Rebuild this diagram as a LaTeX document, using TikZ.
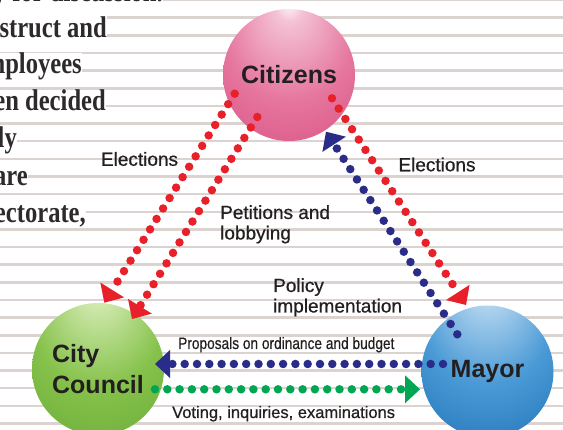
\documentclass[tikz,border=0pt]{standalone}
\usepackage{fontspec}
\setmainfont{Liberation Sans}
\newfontfamily\bgserif[FakeStretch=0.82]{Liberation Serif}
\newfontfamily\medsans[FakeBold=0.6]{Liberation Sans}
\newfontfamily\condsans[FakeStretch=0.83,FakeBold=0.4]{Liberation Sans}
\usetikzlibrary{arrows.meta}
\definecolor{linegray}{HTML}{DAD3D0}
\definecolor{ink}{HTML}{231F20}
\definecolor{bgink}{HTML}{2E2A2B}
\definecolor{dotred}{HTML}{E8202A}
\definecolor{dotblue}{HTML}{2A2C8A}
\definecolor{dotgreen}{HTML}{00A651}
\definecolor{citA}{HTML}{F4C2D4}
\definecolor{citB}{HTML}{E6769E}
\definecolor{citC}{HTML}{D44A7D}
\definecolor{couA}{HTML}{D0E9AE}
\definecolor{couB}{HTML}{86C24B}
\definecolor{couC}{HTML}{62A733}
\definecolor{mayA}{HTML}{BCDAF1}
\definecolor{mayB}{HTML}{4A9AD6}
\definecolor{mayC}{HTML}{186AB0}
\pgfdeclareradialshading{citshade}{\pgfpoint{0bp}{28bp}}{%
  color(0bp)=(white); color(5bp)=(citA); color(24bp)=(citB); color(47bp)=(citC); color(50bp)=(citC)}
\pgfdeclareradialshading{coushade}{\pgfpoint{0bp}{33bp}}{%
  color(0bp)=(white); color(5bp)=(couA); color(24bp)=(couB); color(47bp)=(couC); color(50bp)=(couC)}
\pgfdeclareradialshading{mayshade}{\pgfpoint{0bp}{37bp}}{%
  color(0bp)=(white); color(5bp)=(mayA); color(24bp)=(mayB); color(47bp)=(mayC); color(50bp)=(mayC)}
\begin{document}
\begin{tikzpicture}[x=1pt,y=-1pt,
  bgline/.style={draw=linegray, line width=2.5pt},
  bgtxt/.style={anchor=base east, fill=white, inner sep=0pt, text=bgink,
    font=\bgserif\bfseries\fontsize{30}{30}\selectfont},
  sphere/.style={circle, minimum size=132pt, inner sep=0pt, text=ink,
    font=\bfseries\fontsize{25}{31}\selectfont},
  lbl/.style={text=ink, inner sep=0pt, font=\medsans\fontsize{19}{20.5}\selectfont},
  smalllbl/.style={text=ink, inner sep=0pt, anchor=base west},
  dotline/.style={line width=8.5pt, line cap=round, dash pattern=on 0pt off 12.3pt},
  tipped/.style={-{Triangle[length=15pt,width=28pt,line width=0pt]}}
]
\useasboundingbox (0,0) rectangle (563,430);
\clip (0,0) rectangle (563,430);
\fill[white] (0,0) rectangle (563,430);
\foreach \k in {0,...,24}{
  \draw[bgline] (0,{0.1+17.64*\k}) -- (563,{0.1+17.64*\k});
}
% clipped text column
\node[bgtxt] (t0) at (163,1.5) {y for discussion.};
\node[bgtxt] (t1) at (107,37.3) {struct and};
\node[bgtxt] (t2) at (82,73.8) {mployees};
\node[bgtxt] (t3) at (106,110.5) {en decided};
\node[bgtxt] (t4) at (17,147.3) {ly};
\node[bgtxt] (t5) at (28,186) {are};
\node[bgtxt] (t6) at (86,223) {ectorate,};
% spheres
\node[sphere, shading=citshade] (cit) at (289,75) {Citizens};
\node[sphere, shading=coushade, align=left] (cou) at (98,369) {City\\Council};
\node[sphere, shading=mayshade] (may) at (487.5,371.5) {Mayor};
% connector end points
\coordinate (a1) at ([shift={(-54.3,18.7)}]cit.center);
\coordinate (a2) at ([shift={(6.3,-66.3)}]cou.center);
\coordinate (b1) at ([shift={(-31.7,42)}]cit.center);
\coordinate (b2) at ([shift={(34,-50)}]cou.center);
\coordinate (c1) at ([shift={(43,23.3)}]cit.center);
\coordinate (c2) at ([shift={(-21.5,-66.5)}]may.center);
\coordinate (d1) at ([shift={(-30.2,-37.2)}]may.center);
\coordinate (d2) at ([shift={(37,56.7)}]cit.center);
\coordinate (e1) at ([shift={(-44.5,-7.5)}]may.center);
\coordinate (e2) at ([shift={(57,-5)}]cou.center);
\coordinate (f1) at ([shift={(57,20.3)}]cou.center);
\coordinate (f2) at ([shift={(-67.5,17.8)}]may.center);
% connectors
\draw[dotline, dotred, tipped] (a1) -- (a2);
\draw[dotline, dotred, tipped] (b1) -- (b2);
\draw[dotline, dotred, tipped] (c1) -- (c2);
\draw[dotline, dotblue, tipped] (d1) -- (d2);
\draw[dotline, dotblue, tipped] (e1) -- (e2);
\draw[dotline, dotgreen, tipped] (f1) -- (f2);
% labels
\node[lbl] (l1) at (139.5,159) {Elections};
\node[lbl] (l2) at (437,164.5) {Elections};
\node[lbl, anchor=north west, align=left] (l3) at (220,205) {Petitions and\\lobbying};
\node[lbl, anchor=north west, align=left] (l4) at (273,278) {Policy\\implementation};
\node[smalllbl, font=\condsans\fontsize{16.5}{18}\selectfont] (l5) at (178,349) {Proposals on ordinance and budget};
\node[smalllbl, font=\medsans\fontsize{16.5}{18}\selectfont] (l6) at (172,418) {Voting, inquiries, examinations};
\end{tikzpicture}
\end{document}
